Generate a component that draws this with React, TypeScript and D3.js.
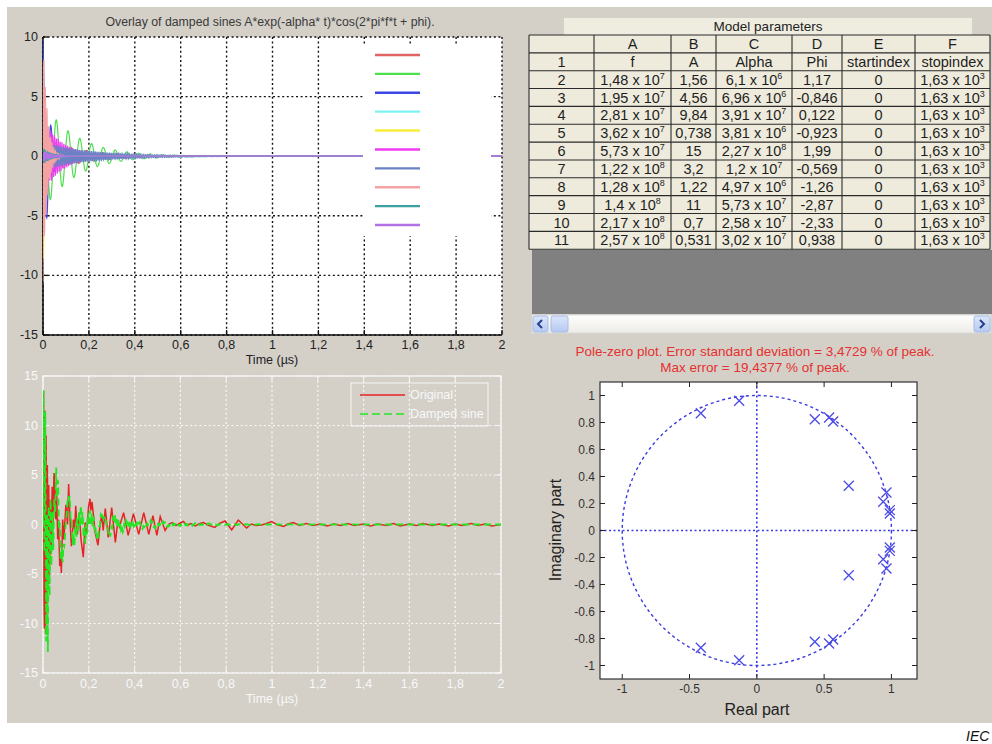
import React, { useMemo } from "react";
import * as d3 from "d3";

// ---- Model parameters (table) ----
const rowNums = [2, 3, 4, 5, 6, 7, 8, 9, 10, 11];
const fHz = [1.48e7, 1.95e7, 2.81e7, 3.62e7, 5.73e7, 1.22e8, 1.28e8, 1.4e8, 2.17e8, 2.57e8];
const amp = [1.56, 4.56, 9.84, 0.738, 15, 3.2, 1.22, 11, 0.7, 0.531];
const alpha = [6.1e6, 6.96e6, 3.91e7, 3.81e6, 2.27e8, 1.2e7, 4.97e6, 5.73e7, 2.58e7, 3.02e7];
const phi = [1.17, -0.846, 0.122, -0.923, 1.99, -0.569, -1.26, -2.87, -2.33, 0.938];
const startIndex = [0, 0, 0, 0, 0, 0, 0, 0, 0, 0];
const stopIndex = [1630, 1630, 1630, 1630, 1630, 1630, 1630, 1630, 1630, 1630];
const colLetters = ["", "A", "B", "C", "D", "E", "F"];
const colNames = ["1", "f", "A", "Alpha", "Phi", "startindex", "stopindex"];

// sampling interval (ns) of the record
const SAMPLE_NS = 1.25;
const T_END_US = 2;

// series colours of the overlay
const overlayColors = ["#e06464", "#4ee04e", "#3a46e6", "#7ff0f0", "#f6ee3c", "#f03cf0", "#6a82c4", "#f4a2a2", "#3fa0a0", "#b272e6"];

// axis ticks
const topYTicks = [10, 5, 0, -5, -10, -15];
const botYTicks = [15, 10, 5, 0, -5, -10, -15];
const timeTicks = [0, 0.2, 0.4, 0.6, 0.8, 1, 1.2, 1.4, 1.6, 1.8, 2];
const pzXTicks = [-1, -0.5, 0, 0.5, 1];
const pzYTicks = [1, 0.8, 0.6, 0.4, 0.2, 0, -0.2, -0.4, -0.6, -0.8, -1];

// "Original" measured record, read as turning points (time µs, value)
const origT = [0, 0.002, 0.0045, 0.006, 0.0085, 0.011, 0.0135, 0.016, 0.019, 0.022, 0.025, 0.028, 0.032, 0.035, 0.04, 0.044, 0.048, 0.052, 0.056, 0.06, 0.064, 0.068, 0.073, 0.077, 0.08, 0.086, 0.091, 0.1, 0.107, 0.112, 0.118, 0.124, 0.133, 0.138, 0.143, 0.15, 0.158, 0.166, 0.176, 0.184, 0.19, 0.199, 0.205, 0.209, 0.214, 0.22, 0.228, 0.24, 0.247, 0.256, 0.263, 0.272, 0.285, 0.3, 0.316, 0.327, 0.334, 0.352, 0.372, 0.395, 0.418, 0.44, 0.462, 0.48, 0.497, 0.512, 0.533, 0.55, 0.565, 0.58, 0.6, 0.613, 0.63, 0.645, 0.665, 0.685, 0.7, 0.72, 0.75, 0.77, 0.795, 0.824, 0.853, 0.889, 0.91, 0.93, 0.955, 0.975, 0.998, 1.02, 1.05, 1.07, 1.093, 1.12, 1.15, 1.18, 1.21, 1.24, 1.27, 1.3, 1.33, 1.36, 1.4, 1.43, 1.46, 1.5, 1.53, 1.56, 1.6, 1.63, 1.66, 1.7, 1.73, 1.77, 1.8, 1.83, 1.87, 1.9, 1.93, 1.96, 2.0];
const origV = [0, 13.5, -8, -10.5, 11.5, -11, 9, -9, 6, -6, 4, -5.3, 2.5, -3, 3.8, -0.5, 5.2, 4, 0.5, 3, -1.5, 0.5, -4.2, -3, -4.9, 0.5, -1.5, 2, 0, 4.1, 0.5, -2.2, 0.5, -0.5, 1.9, -1, 1.2, -1.5, -3.3, 0.2, -0.8, 1.8, 2.6, 1.4, 2.3, 1.0, -0.8, -2.1, -0.5, 1.0, -0.6, 1.6, -1.3, 1.7, -1.8, 0.4, -0.2, 1.2, -1.1, 1.1, -1.0, 1.2, -1.0, 0.9, -1.1, 0.8, -0.6, 0.05, 0.2, -0.1, 0.15, 0.3, -0.1, 0.1, -0.15, 0.1, 0.2, -0.05, -0.3, 0.1, 0.35, -0.55, 0.45, -0.35, 0.05, -0.1, -0.05, 0.1, 0.3, 0, -0.2, 0.05, 0.2, -0.1, 0.1, -0.1, 0.05, -0.15, 0.05, -0.1, 0.1, -0.1, 0.05, -0.15, 0.05, -0.1, 0.1, -0.15, 0.05, -0.1, 0.1, -0.1, 0.05, -0.15, 0.05, -0.1, 0.1, -0.1, 0.05, -0.15, 0];

// poles
const poleRe = [-0.416, -0.131, 0.431, 0.537, 0.567, 0.683, 0.963, 0.939, 0.988, 0.988, -0.416, -0.131, 0.431, 0.537, 0.567, 0.683, 0.963, 0.939, 0.988, 0.988];
const poleIm = [0.869, 0.961, 0.824, 0.837, 0.807, 0.331, 0.282, 0.213, 0.151, 0.126, -0.869, -0.961, -0.824, -0.837, -0.807, -0.331, -0.282, -0.213, -0.151, -0.126];

const FONT = "'Liberation Sans', Arial, Helvetica, sans-serif";
const PANEL = "#d4d0c8";

const comma = (d: number) => String(d).replace(".", ",");

function sci(v: number) {
  const e = Math.floor(Math.log10(Math.abs(v)));
  const m = parseFloat((v / Math.pow(10, e)).toPrecision(3));
  return { m: comma(m), e: String(e) };
}

function Sci({ v, x, y }: { v: number; x: number; y: number }) {
  const s = sci(v);
  return (
    <text x={x} y={y} textAnchor="middle" fontSize={14.5} fill="#1e1e1e" fontFamily={FONT}>
      {s.m + " x 10"}
      <tspan dy={-6} fontSize={9}>{s.e}</tspan>
    </text>
  );
}

export default function App() {
  const tUs = useMemo(() => {
    const arr: number[] = [];
    const n = Math.round((T_END_US * 1000) / SAMPLE_NS);
    for (let k = 0; k <= n; k++) arr.push((k * SAMPLE_NS) / 1000);
    return arr;
  }, []);

  const comps = useMemo(
    () =>
      fHz.map((f, i) =>
        tUs.map((t) => amp[i] * Math.exp(-alpha[i] * t * 1e-6) * Math.cos(2 * Math.PI * f * t * 1e-6 + phi[i]))
      ),
    [tUs]
  );
  const modelSum = useMemo(() => tUs.map((_, k) => comps.reduce((s, c) => s + c[k], 0)), [comps, tUs]);

  // ---- top plot ----
  const xT = d3.scaleLinear().domain([0, 2]).range([43, 502]);
  const yT = d3.scaleLinear().domain([-15, 10]).range([335, 37]);
  const lineT = d3
    .line<number>()
    .x((_, k) => xT(tUs[k]))
    .y((v) => yT(v));

  // ---- bottom plot ----
  const xB = d3.scaleLinear().domain([0, 2]).range([43, 501]);
  const yB = d3.scaleLinear().domain([-15, 15]).range([673, 376]);
  const lineModel = d3
    .line<number>()
    .x((_, k) => xB(tUs[k]))
    .y((v) => yB(v));
  const lineOrig = d3
    .line<number>()
    .x((_, k) => xB(origT[k]))
    .y((v) => yB(v));

  // ---- pole-zero ----
  const xP = d3.scaleLinear().domain([-1.165, 1.19]).range([600, 917]);
  const yP = d3.scaleLinear().domain([-1.1, 1.1]).range([679, 382]);

  // table geometry
  const colX = [529, 594, 671, 716, 792, 842, 915, 990];
  const rowH = 17.85;
  const rowTop = 35;
  const tableRows: (string | number)[][] = rowNums.map((r, i) => [r, fHz[i], amp[i], alpha[i], phi[i], startIndex[i], stopIndex[i]]);

  const legendY = d3.scaleLinear().domain([0, 9]).range([55, 225]);

  return (
    <svg width={992} height={744} style={{ position: "absolute", left: 0, top: 0 }} fontFamily={FONT}>
      <defs>
        <clipPath id="clipTop">
          <rect x={43} y={37} width={459} height={298} />
        </clipPath>
        <clipPath id="clipBot">
          <rect x={43} y={376} width={458} height={297} />
        </clipPath>
        <linearGradient id="sbar" x1="0" y1="0" x2="0" y2="1">
          <stop offset="0" stopColor="#ffffff" />
          <stop offset="1" stopColor="#ecebe6" />
        </linearGradient>
        <linearGradient id="sbtn" x1="0" y1="0" x2="0" y2="1">
          <stop offset="0" stopColor="#dbe6fb" />
          <stop offset="1" stopColor="#b5c9f0" />
        </linearGradient>
      </defs>
      <rect x={0} y={0} width={992} height={744} fill="#ffffff" />
      <rect x={7} y={7} width={985} height={716} fill={PANEL} />

      {/* ================= TOP PLOT ================= */}
      <text x={270} y={26} textAnchor="middle" fontSize={12.3} fill="#3a3a3a">
        Overlay of damped sines A*exp(-alpha* t)*cos(2*pi*f*t + phi).
      </text>
      <rect x={43} y={37} width={459} height={298} fill="#fff" />
      {timeTicks.map((t) => (
        <line key={"tgx" + t} x1={xT(t)} x2={xT(t)} y1={37} y2={335} stroke="#111" strokeWidth={1.4} strokeDasharray="2,2.6" />
      ))}
      {topYTicks.map((v) => (
        <line key={"tgy" + v} x1={43} x2={502} y1={yT(v)} y2={yT(v)} stroke="#111" strokeWidth={1.4} strokeDasharray="2,2.6" />
      ))}
      <line x1={43} x2={43} y1={37} y2={335} stroke="#111" strokeWidth={1.6} />
      <line x1={43} x2={502} y1={335} y2={335} stroke="#111" strokeWidth={1.6} />
      {timeTicks.map((t) => (
        <line key={"ttk" + t} x1={xT(t)} x2={xT(t)} y1={335} y2={330} stroke="#111" strokeWidth={1.3} />
      ))}
      {topYTicks.map((v) => (
        <line key={"tyk" + v} x1={43} x2={48} y1={yT(v)} y2={yT(v)} stroke="#111" strokeWidth={1.3} />
      ))}
      <g clipPath="url(#clipTop)">
        {comps.map((c, i) => (
          <path key={"cmp" + i} d={lineT(c) || ""} fill="none" stroke={overlayColors[i]} strokeWidth={1.2} />
        ))}
      </g>
      <rect x={363} y={44} width={128} height={192} fill="#fff" />
      {overlayColors.map((c, i) => (
        <line key={"lg" + i} x1={375} x2={420} y1={legendY(i)} y2={legendY(i)} stroke={c} strokeWidth={2.4} />
      ))}
      {topYTicks.map((v) => (
        <text key={"tyl" + v} x={38} y={yT(v) + 4} textAnchor="end" fontSize={12.5} fill="#222">
          {comma(v)}
        </text>
      ))}
      {timeTicks.map((t) => (
        <text key={"txl" + t} x={xT(t)} y={349} textAnchor="middle" fontSize={12.5} fill="#222">
          {comma(t)}
        </text>
      ))}
      <text x={272} y={364} textAnchor="middle" fontSize={12.5} fill="#222">
        Time (µs)
      </text>

      {/* ================= BOTTOM PLOT ================= */}
      {timeTicks.map((t) => (
        <line key={"bgx" + t} x1={xB(t)} x2={xB(t)} y1={376} y2={673} stroke="#fafafa" strokeWidth={1.2} strokeDasharray="2,2.6" />
      ))}
      {botYTicks.map((v) => (
        <line key={"bgy" + v} x1={43} x2={501} y1={yB(v)} y2={yB(v)} stroke="#fafafa" strokeWidth={1.2} strokeDasharray="2,2.6" />
      ))}
      <rect x={43} y={376} width={458} height={297} fill="none" stroke="#f6f6f6" strokeWidth={1.3} />
      {timeTicks.map((t) => (
        <g key={"btk" + t}>
          <line x1={xB(t)} x2={xB(t)} y1={673} y2={668} stroke="#f6f6f6" />
          <line x1={xB(t)} x2={xB(t)} y1={376} y2={381} stroke="#f6f6f6" />
        </g>
      ))}
      {botYTicks.map((v) => (
        <g key={"byk" + v}>
          <line x1={43} x2={48} y1={yB(v)} y2={yB(v)} stroke="#f6f6f6" />
          <line x1={501} x2={496} y1={yB(v)} y2={yB(v)} stroke="#f6f6f6" />
        </g>
      ))}
      <g clipPath="url(#clipBot)">
        <path d={lineOrig(origV) || ""} fill="none" stroke="#e42424" strokeWidth={1.5} />
        <path d={lineModel(modelSum) || ""} fill="none" stroke="#22e622" strokeWidth={1.8} strokeDasharray="7,4" />
      </g>
      <rect x={351} y={383} width={137} height={43} fill="none" stroke="#f6f6f6" strokeWidth={1} />
      <line x1={360} x2={405} y1={395} y2={395} stroke="#e42424" strokeWidth={1.6} />
      <line x1={360} x2={405} y1={414} y2={414} stroke="#22e622" strokeWidth={1.6} strokeDasharray="8,4" />
      <text x={410} y={399} fontSize={12.5} fill="#f8f8f8">
        Original
      </text>
      <text x={410} y={418} fontSize={12.5} fill="#f8f8f8">
        Damped sine
      </text>
      {botYTicks.map((v) => (
        <text key={"byl" + v} x={38} y={yB(v) + 4} textAnchor="end" fontSize={12.5} fill="#f8f8f8">
          {comma(v)}
        </text>
      ))}
      {timeTicks.map((t) => (
        <text key={"bxl" + t} x={xB(t)} y={688} textAnchor="middle" fontSize={12.5} fill="#f8f8f8">
          {comma(t)}
        </text>
      ))}
      <text x={272} y={703} textAnchor="middle" fontSize={12.5} fill="#f8f8f8">
        Time (µs)
      </text>

      {/* ================= TABLE ================= */}
      <rect x={564} y={18} width={408} height={17} fill="#efede0" />
      <text x={768} y={31} textAnchor="middle" fontSize={13.5} fill="#222">
        Model parameters
      </text>
      <rect x={colX[0]} y={rowTop} width={colX[7] - colX[0]} height={rowH * 12} fill="#eeebdc" />
      {d3.range(13).map((r) => (
        <line key={"hr" + r} x1={colX[0]} x2={colX[7]} y1={rowTop + r * rowH} y2={rowTop + r * rowH} stroke="#2a2a2a" strokeWidth={1.1} />
      ))}
      {colX.map((x, c) => (
        <line key={"vr" + c} x1={x} x2={x} y1={rowTop} y2={rowTop + rowH * 12} stroke="#2a2a2a" strokeWidth={1.1} />
      ))}
      {colLetters.map((s, c) => (
        <text key={"cl" + c} x={(colX[c] + colX[c + 1]) / 2} y={rowTop + 14} textAnchor="middle" fontSize={14.5} fill="#1e1e1e">
          {s}
        </text>
      ))}
      {colNames.map((s, c) => (
        <text key={"cn" + c} x={(colX[c] + colX[c + 1]) / 2} y={rowTop + rowH + 14} textAnchor="middle" fontSize={14.5} fill="#1e1e1e">
          {s}
        </text>
      ))}
      {tableRows.map((row, r) =>
        row.map((v, c) => {
          const cx = (colX[c] + colX[c + 1]) / 2;
          const cy = rowTop + (r + 2) * rowH + 14;
          if (c === 1 || c === 3 || c === 6) return <Sci key={r + "-" + c} v={v as number} x={cx} y={cy} />;
          return (
            <text key={r + "-" + c} x={cx} y={cy} textAnchor="middle" fontSize={14.5} fill="#1e1e1e">
              {comma(v as number)}
            </text>
          );
        })
      )}
      <rect x={532} y={250} width={460} height={64} fill="#808080" />
      <rect x={532} y={315} width={459} height={18} fill="url(#sbar)" stroke="#d8d8d8" />
      <rect x={533} y={316} width={15} height={16} rx={2} fill="url(#sbtn)" stroke="#a8bce6" />
      <path d="M542,320 L538,324 L542,328" fill="none" stroke="#2a3f8a" strokeWidth={2} />
      <rect x={551} y={316} width={17} height={16} rx={2} fill="url(#sbtn)" stroke="#a8bce6" />
      <rect x={974} y={316} width={16} height={16} rx={2} fill="url(#sbtn)" stroke="#a8bce6" />
      <path d="M980,320 L984,324 L980,328" fill="none" stroke="#2a3f8a" strokeWidth={2} />

      {/* ================= POLE-ZERO ================= */}
      <text x={755} y={356} textAnchor="middle" fontSize={13.5} fill="#e43030">
        Pole-zero plot.  Error standard deviation = 3,4729 % of peak.
      </text>
      <text x={755} y={372} textAnchor="middle" fontSize={13.5} fill="#e43030">
        Max error = 19,4377 % of peak.
      </text>
      <rect x={600} y={382} width={317} height={297} fill="#fff" />
      <ellipse cx={xP(0)} cy={yP(0)} rx={xP(1) - xP(0)} ry={yP(0) - yP(1)} fill="none" stroke="#3b3be0" strokeWidth={1.4} strokeDasharray="3,3" />
      <line x1={xP(0)} x2={xP(0)} y1={382} y2={679} stroke="#3b3be0" strokeWidth={1.6} strokeDasharray="2,2.5" />
      <line x1={600} x2={917} y1={yP(0)} y2={yP(0)} stroke="#3b3be0" strokeWidth={1.6} strokeDasharray="2,2.5" />
      {poleRe.map((re, i) => (
        <path
          key={"p" + i}
          transform={`translate(${xP(re)},${yP(poleIm[i])})`}
          d="M-5,-5L5,5M-5,5L5,-5"
          stroke="#4a4ae4"
          strokeWidth={1.3}
          fill="none"
        />
      ))}
      <rect x={600} y={382} width={317} height={297} fill="none" stroke="#222" strokeWidth={1.1} />
      {pzXTicks.map((v) => (
        <g key={"pxt" + v}>
          <line x1={xP(v)} x2={xP(v)} y1={679} y2={674} stroke="#222" />
          <line x1={xP(v)} x2={xP(v)} y1={382} y2={387} stroke="#222" />
          <text x={xP(v)} y={693} textAnchor="middle" fontSize={12} fill="#333">
            {String(v)}
          </text>
        </g>
      ))}
      {pzYTicks.map((v) => (
        <g key={"pyt" + v}>
          <line x1={600} x2={605} y1={yP(v)} y2={yP(v)} stroke="#222" />
          <line x1={917} x2={912} y1={yP(v)} y2={yP(v)} stroke="#222" />
          <text x={595} y={yP(v) + 4} textAnchor="end" fontSize={12} fill="#333">
            {String(v)}
          </text>
        </g>
      ))}
      <text x={757} y={715} textAnchor="middle" fontSize={16} fill="#222">
        Real part
      </text>
      <text transform="translate(561,530) rotate(-90)" textAnchor="middle" fontSize={16} fill="#222">
        Imaginary part
      </text>

      <text x={966} y={741} fontSize={14} fontStyle="italic" fill="#111">
        IEC
      </text>
    </svg>
  );
}
